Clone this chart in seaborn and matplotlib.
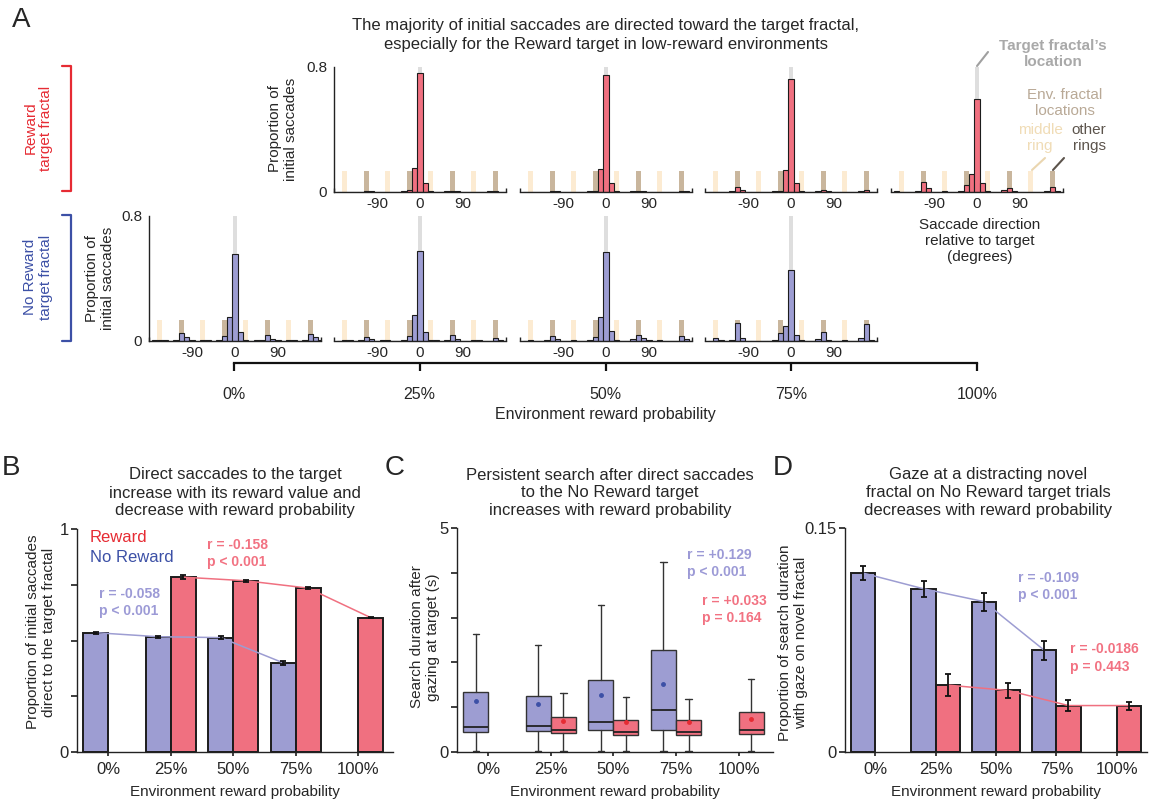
import numpy as np
import pandas as pd
import matplotlib
matplotlib.use("Agg")
import matplotlib.pyplot as plt
import seaborn as sns
from matplotlib.lines import Line2D

# ---------------- data ----------------
env_levels = ["0%", "25%", "50%", "75%", "100%"]

angle_bins = [-168.75, -157.5, -146.25, -135.0, -123.75, -112.5, -101.25, -90.0,
              -78.75, -67.5, -56.25, -45.0, -33.75, -22.5, -11.25, 0.0,
              11.25, 22.5, 33.75, 45.0, 56.25, 67.5, 78.75, 90.0,
              101.25, 112.5, 123.75, 135.0, 146.25, 157.5, 168.75, 180.0]

reward_25 = [0.000, 0.000, 0.000, 0.000, 0.000, 0.003, 0.002, 0.000,
             0.000, 0.000, 0.000, 0.000, 0.002, 0.012, 0.154, 0.760,
             0.058, 0.003, 0.000, 0.000, 0.002, 0.004, 0.002, 0.000,
             0.000, 0.000, 0.000, 0.000, 0.002, 0.003, 0.001, 0.000]
reward_50 = [0.001, 0.000, 0.000, 0.000, 0.000, 0.006, 0.003, 0.000,
             0.000, 0.000, 0.000, 0.000, 0.002, 0.005, 0.143, 0.747,
             0.058, 0.002, 0.000, 0.000, 0.002, 0.005, 0.003, 0.000,
             0.000, 0.000, 0.000, 0.000, 0.000, 0.004, 0.002, 0.000]
reward_75 = [0.000, 0.001, 0.000, 0.000, 0.002, 0.032, 0.013, 0.000,
             0.000, 0.000, 0.000, 0.000, 0.003, 0.006, 0.139, 0.719,
             0.058, 0.002, 0.000, 0.000, 0.002, 0.008, 0.003, 0.000,
             0.000, 0.000, 0.000, 0.000, 0.002, 0.010, 0.000, 0.000]
reward_100 = [0.002, 0.000, 0.000, 0.000, 0.003, 0.064, 0.023, 0.000,
              0.000, 0.002, 0.000, 0.000, 0.003, 0.043, 0.113, 0.593,
              0.058, 0.002, 0.000, 0.000, 0.012, 0.022, 0.003, 0.000,
              0.000, 0.000, 0.000, 0.000, 0.005, 0.028, 0.003, 0.000]

noreward_0 = [0.002, 0.005, 0.002, 0.000, 0.003, 0.051, 0.025, 0.002,
              0.000, 0.006, 0.002, 0.000, 0.004, 0.030, 0.153, 0.556,
              0.053, 0.003, 0.000, 0.002, 0.006, 0.034, 0.012, 0.002,
              0.000, 0.004, 0.002, 0.000, 0.003, 0.042, 0.021, 0.002]
noreward_25 = [0.000, 0.007, 0.002, 0.000, 0.003, 0.023, 0.010, 0.000,
               0.003, 0.005, 0.000, 0.000, 0.005, 0.032, 0.163, 0.571,
               0.057, 0.005, 0.002, 0.000, 0.006, 0.034, 0.010, 0.000,
               0.000, 0.005, 0.002, 0.000, 0.000, 0.019, 0.005, 0.000]
noreward_50 = [0.000, 0.007, 0.000, 0.000, 0.003, 0.032, 0.010, 0.000,
               0.000, 0.006, 0.000, 0.000, 0.005, 0.026, 0.152, 0.565,
               0.060, 0.004, 0.000, 0.000, 0.008, 0.034, 0.015, 0.003,
               0.000, 0.004, 0.000, 0.000, 0.000, 0.030, 0.012, 0.000]
noreward_75 = [0.000, 0.015, 0.003, 0.000, 0.005, 0.111, 0.015, 0.000,
               0.000, 0.000, 0.000, 0.000, 0.005, 0.051, 0.096, 0.453,
               0.034, 0.003, 0.000, 0.000, 0.010, 0.053, 0.004, 0.000,
               0.000, 0.003, 0.000, 0.000, 0.020, 0.107, 0.005, 0.000]

target_loc = [0.0]
other_ring_locs = [-112.5, -22.5, 67.5, 157.5]
middle_ring_locs = [-157.5, -67.5, 22.5, 112.5]
ring_marker_height = 0.133
target_marker_height = 0.8

# Panel B
B_env_nr = ["0%", "25%", "50%", "75%"]
B_noreward = [0.535, 0.517, 0.513, 0.400]
B_noreward_err = [0.004, 0.004, 0.006, 0.008]
B_env_r = ["25%", "50%", "75%", "100%"]
B_reward = [0.784, 0.768, 0.735, 0.603]
B_reward_err = [0.008, 0.004, 0.003, 0.004]

# Panel C (box statistics, seconds)
C_env_nr = ["0%", "25%", "50%", "75%"]
C_nr_whislo = [0.02, 0.02, 0.02, 0.02]
C_nr_q1 = [0.45, 0.46, 0.48, 0.50]
C_nr_med = [0.56, 0.57, 0.66, 0.94]
C_nr_q3 = [1.34, 1.25, 1.60, 2.27]
C_nr_whishi = [2.63, 2.39, 3.28, 4.24]
C_nr_mean = [1.14, 1.08, 1.27, 1.52]
C_env_r = ["25%", "50%", "75%", "100%"]
C_r_whislo = [0.02, 0.02, 0.02, 0.02]
C_r_q1 = [0.43, 0.37, 0.37, 0.40]
C_r_med = [0.49, 0.45, 0.45, 0.49]
C_r_q3 = [0.78, 0.72, 0.71, 0.90]
C_r_whishi = [1.32, 1.22, 1.19, 1.63]
C_r_mean = [0.69, 0.67, 0.66, 0.74]

# Panel D
D_env_nr = ["0%", "25%", "50%", "75%"]
D_noreward = [0.1198, 0.1093, 0.1007, 0.0681]
D_noreward_err = [0.0049, 0.0054, 0.0060, 0.0063]
D_env_r = ["25%", "50%", "75%", "100%"]
D_reward = [0.0448, 0.0412, 0.0311, 0.0311]
D_reward_err = [0.0072, 0.0049, 0.0034, 0.0027]

# ---------------- style ----------------
purple = "#9D9DD2"
red = "#F07080"
purple_txt = "#9C9AD6"
red_txt = "#F27282"
reward_red = "#E62B33"
noreward_blue = "#3C50A6"
target_col = "#DEDEDE"
other_col = "#C9B69D"
middle_col = "#FCEBD2"
edge = "#1c1c1c"

sns.set_theme(style="ticks")
plt.rcParams['font.family'] = ['Liberation Sans', 'DejaVu Sans']
plt.rcParams['axes.linewidth'] = 1.0
plt.rcParams['axes.edgecolor'] = '#222222'

W, H = 1158, 807
fig = plt.figure(figsize=(W / 100, H / 100), dpi=100)
FS = 11
TFS = 12


def axes_px(l, t, r, b):
    return fig.add_axes([l / W, 1 - b / H, (r - l) / W, (b - t) / H])


def ftext(x, y, s, **kw):
    return fig.text(x / W, 1 - y / H, s, **kw)


def fline(xs, ys, **kw):
    fig.add_artist(Line2D([x / W for x in xs], [1 - y / H for y in ys],
                          transform=fig.transFigure, **kw))


half_bin = (angle_bins[1] - angle_bins[0]) / 2
bin_edges = [a - half_bin for a in angle_bins] + [angle_bins[-1] + half_bin]


def draw_hist(cx, top, bottom, values, color, first):
    ax = axes_px(cx - 86, top, cx + 86, bottom)
    ax.bar(target_loc, [target_marker_height] * len(target_loc), width=10,
           color=target_col, linewidth=0, zorder=0.5)
    ax.bar(other_ring_locs, [ring_marker_height] * len(other_ring_locs), width=10,
           color=other_col, linewidth=0, zorder=0.5)
    ax.bar(middle_ring_locs, [ring_marker_height] * len(middle_ring_locs), width=10,
           color=middle_col, linewidth=0, zorder=0.5)
    sns.histplot(x=angle_bins, weights=values, bins=bin_edges, ax=ax,
                 color=color, edgecolor=edge, linewidth=0.8, alpha=1.0, zorder=2)
    ax.set_xlim(-180, 180)
    ax.set_ylim(0, 0.8)
    ax.set_xticks([-90, 0, 90])
    ax.set_xticklabels(["-90", "0", "90"], fontsize=FS)
    ax.set_xticks([-180, 180], minor=True)
    ax.tick_params(axis='x', which='major', length=0, pad=4)
    ax.tick_params(axis='x', which='minor', direction='in', length=3, width=1.0,
                   color='#222222')
    ax.set_xlabel("")
    ax.set_ylabel("")
    if first:
        ax.set_yticks([0, 0.8])
        ax.set_yticklabels(["0", "0.8"], fontsize=FS)
        ax.tick_params(axis='y', length=0, pad=5)
        sns.despine(ax=ax)
    else:
        ax.set_yticks([])
        sns.despine(ax=ax, left=True)
    return ax


top_t, top_b = 66.5, 191.7
bot_t, bot_b = 215.5, 340.7
centers = [235, 420, 606, 791, 977]

for cx, vals, first in zip(centers[1:], [reward_25, reward_50, reward_75, reward_100],
                           [True, False, False, False]):
    draw_hist(cx, top_t, top_b, vals, red, first)
for cx, vals, first in zip(centers[:4], [noreward_0, noreward_25, noreward_50, noreward_75],
                           [True, False, False, False]):
    draw_hist(cx, bot_t, bot_b, vals, purple, first)

# y labels for the rows
ftext(283, 129, "Proportion of\ninitial saccades", rotation=90, ha='center', va='center',
      fontsize=FS, linespacing=1.15)
ftext(100, 278, "Proportion of\ninitial saccades", rotation=90, ha='center', va='center',
      fontsize=FS, linespacing=1.15)

# row brackets
fline([62, 71, 71, 62], [66, 66, 191, 191], color=reward_red, lw=1.6)
ftext(38, 128, "Reward\ntarget fractal", rotation=90, ha='center', va='center',
      fontsize=FS, color=reward_red, linespacing=1.1)
fline([62, 71, 71, 62], [215, 215, 341, 341], color=noreward_blue, lw=1.6)
ftext(38, 277, "No Reward\ntarget fractal", rotation=90, ha='center', va='center',
      fontsize=FS, color=noreward_blue, linespacing=1.1)

# environment axis bracket
axE = axes_px(234, 362, 977, 363)
axE.set_xlim(0, 4)
axE.set_xticks(range(5))
axE.set_xticklabels(env_levels, fontsize=FS + 0.5)
axE.set_yticks([])
for s in ['left', 'right', 'top']:
    axE.spines[s].set_visible(False)
axE.spines['bottom'].set_linewidth(1.6)
axE.spines['bottom'].set_color('#111111')
axE.tick_params(axis='x', direction='out', length=6, width=1.6, pad=11, color='#111111')
axE.patch.set_alpha(0)
axE.set_xlabel("Environment reward probability", fontsize=FS + 0.5, labelpad=4)

# panel A title and letter
ftext(606, 35, "The majority of initial saccades are directed toward the target fractal,\n"
      "especially for the Reward target in low-reward environments",
      ha='center', va='center', fontsize=TFS, linespacing=1.4)
ftext(12, 20, "A", ha='left', va='center', fontsize=20)

# annotations for panel A
ftext(1053, 54, "Target fractal\u2019s\nlocation", ha='center', va='center', fontsize=FS,
      color="#A9A9A9", fontweight='bold', linespacing=1.15)
fline([977, 988], [66, 52], color="#A0A0A0", lw=1.5)
ftext(1065, 103, "Env. fractal\nlocations", ha='center', va='center', fontsize=FS,
      color="#B9A996", linespacing=1.15)
ftext(1040, 138, "middle\nring", ha='center', va='center', fontsize=FS,
      color="#F0DCB6", linespacing=1.15)
ftext(1089, 138, "other\nrings", ha='center', va='center', fontsize=FS,
      color="#5C544C", linespacing=1.15)
fline([1032, 1045], [170, 158], color="#EAD6B0", lw=1.5)
fline([1053, 1064], [170, 158], color="#5C544C", lw=1.5)
ftext(980, 241, "Saccade direction\nrelative to target\n(degrees)", ha='center', va='center',
      fontsize=FS, linespacing=1.2)


# ---------------- panels B & D ----------------
def bar_panel(ax, env_nr, nr, nr_err, env_r, r, r_err):
    df = pd.DataFrame({"env": env_nr + env_r,
                       "target": ["No Reward"] * len(env_nr) + ["Reward"] * len(env_r),
                       "value": nr + r})
    sns.barplot(data=df, x="env", y="value", hue="target", order=env_levels,
                hue_order=["No Reward", "Reward"], palette=[purple, red], width=0.8,
                dodge=True, errorbar=None, edgecolor=edge, linewidth=1.4, saturation=1,
                legend=False, ax=ax)
    for cont, errs, lc in zip(ax.containers, [nr_err, r_err], [purple, red]):
        bars = sorted(cont, key=lambda b: b.get_x())
        xs = [b.get_x() + b.get_width() / 2 for b in bars]
        ys = [b.get_height() for b in bars]
        ax.plot(xs, ys, color=lc, lw=1.1, zorder=4)
        ax.errorbar(xs, ys, yerr=errs, fmt='none', ecolor='#111111', elinewidth=1.3,
                    capsize=2.5, capthick=1.3, zorder=5)
    ax.set_xlabel("Environment reward probability", fontsize=FS, labelpad=6)
    ax.set_ylabel("")
    ax.tick_params(axis='x', labelsize=FS + 1, length=3, pad=4)
    ax.tick_params(axis='y', labelsize=FS + 1, length=4, pad=2)
    sns.despine(ax=ax)


axB = axes_px(77, 529, 393, 752)
bar_panel(axB, B_env_nr, B_noreward, B_noreward_err, B_env_r, B_reward, B_reward_err)
axB.set_xlim(-0.5, 4.56)
axB.set_ylim(0, 1)
axB.set_yticks([0, 0.25, 0.5, 0.75, 1])
axB.set_yticklabels(["0", "", "", "", "1"])
axB.text(-0.29, 0.964, "Reward", color=reward_red, fontsize=FS + 1, va='center', ha='left')
axB.text(-0.29, 0.874, "No Reward", color=noreward_blue, fontsize=FS + 1, va='center', ha='left')
axB.text(1.58, 0.89, "r = -0.158\np < 0.001", color=red_txt, fontsize=10, fontweight='bold',
         va='center', ha='left', linespacing=1.3)
axB.text(-0.14, 0.67, "r = -0.058\np < 0.001", color=purple_txt, fontsize=10, fontweight='bold',
         va='center', ha='left', linespacing=1.3)
ftext(41, 632, "Proportion of initial saccades\ndirect to the target fractal", rotation=90,
      ha='center', va='center', fontsize=FS, linespacing=1.15)
ftext(235, 493, "Direct saccades to the target\nincrease with its reward value and\n"
      "decrease with reward probability", ha='center', va='center', fontsize=TFS,
      linespacing=1.25)
ftext(2, 468, "B", ha='left', va='center', fontsize=20)

axD = axes_px(845, 528, 1147, 752)
bar_panel(axD, D_env_nr, D_noreward, D_noreward_err, D_env_r, D_reward, D_reward_err)
axD.set_xlim(-0.5, 4.5)
axD.set_ylim(0, 0.15)
axD.set_yticks([0, 0.15])
axD.set_yticklabels(["0", "0.15"])
axD.text(2.36, 0.111, "r = -0.109\np < 0.001", color=purple_txt, fontsize=10, fontweight='bold',
         va='center', ha='left', linespacing=1.3)
axD.text(3.22, 0.063, "r = -0.0186\np = 0.443", color=red_txt, fontsize=10, fontweight='bold',
         va='center', ha='left', linespacing=1.3)
ftext(793, 643, "Proportion of search duration\nwith gaze on novel fractal", rotation=90,
      ha='center', va='center', fontsize=FS, linespacing=1.15)
ftext(988, 493, "Gaze at a distracting novel\nfractal on No Reward target trials\n"
      "decreases with reward probability", ha='center', va='center', fontsize=TFS,
      linespacing=1.25)
ftext(773, 468, "D", ha='left', va='center', fontsize=20)

# ---------------- panel C ----------------
axC = axes_px(457, 528, 773, 752)


def box_stats(whislo, q1, med, q3, whishi, mean):
    return [dict(whislo=a, q1=b, med=c, q3=d, whishi=e, mean=f, fliers=[])
            for a, b, c, d, e, f in zip(whislo, q1, med, q3, whishi, mean)]


for env, stats, fc, mc, off in [
        (C_env_nr, box_stats(C_nr_whislo, C_nr_q1, C_nr_med, C_nr_q3, C_nr_whishi, C_nr_mean),
         purple, noreward_blue, -0.2),
        (C_env_r, box_stats(C_r_whislo, C_r_q1, C_r_med, C_r_q3, C_r_whishi, C_r_mean),
         red, reward_red, 0.2)]:
    pos = [env_levels.index(e) + off for e in env]
    axC.bxp(stats, positions=pos, widths=0.4, patch_artist=True, showmeans=True,
            manage_ticks=False, capwidths=0.1,
            boxprops=dict(facecolor=fc, edgecolor='#333333', linewidth=1.0),
            medianprops=dict(color='#222222', linewidth=1.3),
            whiskerprops=dict(color='#333333', linewidth=1.0),
            capprops=dict(color='#333333', linewidth=1.0),
            meanprops=dict(marker='o', markersize=2.5, markerfacecolor=mc, markeredgecolor=mc))
axC.set_xlim(-0.5, 4.55)
axC.set_ylim(0, 5)
axC.set_xticks(range(5))
axC.set_xticklabels(env_levels)
axC.set_yticks([0, 1, 2, 3, 4, 5])
axC.set_yticklabels(["0", "", "", "", "", "5"])
axC.tick_params(axis='x', labelsize=FS + 1, length=3, pad=4)
axC.tick_params(axis='y', labelsize=FS + 1, length=4, pad=2)
axC.set_xlabel("Environment reward probability", fontsize=FS, labelpad=6)
sns.despine(ax=axC)
axC.text(3.17, 4.21, "r = +0.129\np < 0.001", color=purple_txt, fontsize=10, fontweight='bold',
         va='center', ha='left', linespacing=1.3)
axC.text(3.41, 3.18, "r = +0.033\np = 0.164", color=red_txt, fontsize=10, fontweight='bold',
         va='center', ha='left', linespacing=1.3)
ftext(425, 637, "Search duration after\ngazing at target (s)", rotation=90,
      ha='center', va='center', fontsize=FS, linespacing=1.15)
ftext(610, 493, "Persistent search after direct saccades\nto the No Reward target\n"
      "increases with reward probability", ha='center', va='center', fontsize=TFS,
      linespacing=1.25)
ftext(385, 468, "C", ha='left', va='center', fontsize=20)

fig.savefig("out.png", dpi=100)
